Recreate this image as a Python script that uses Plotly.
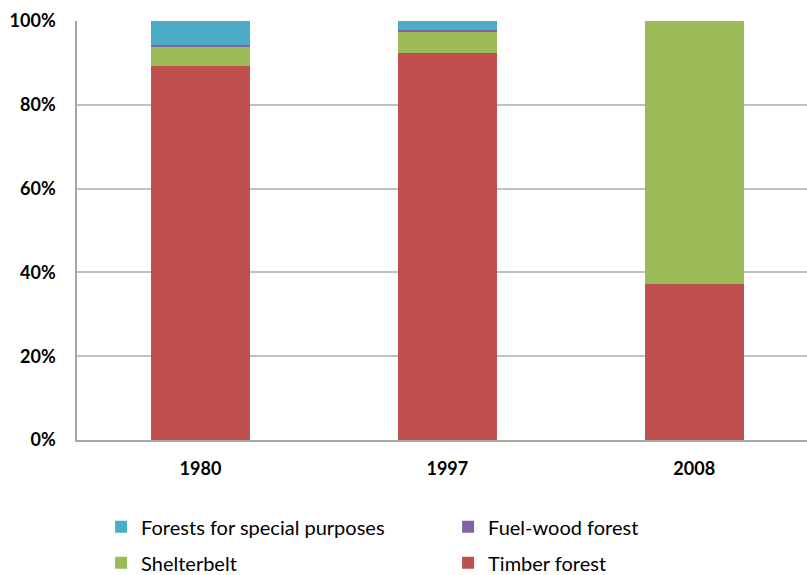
import plotly.graph_objects as go

# Forest composition by purpose, share of total (%)
years = ["1980", "1997", "2008"]
timber = [89.3, 92.3, 37.3]
shelterbelt = [4.6, 5.3, 62.7]
fuel_wood = [0.3, 0.3, 0.0]
special = [5.8, 2.1, 0.0]

y_ticks = [0, 20, 40, 60, 80, 100]
y_tick_labels = ["0%", "20%", "40%", "60%", "80%", "100%"]

FONT = "Lato"

series = [
    ("Timber forest", timber, "#C0504D", "legend2"),
    ("Shelterbelt", shelterbelt, "#9BBB59", "legend2"),
    ("Fuel-wood forest", fuel_wood, "#8064A2", "legend"),
    ("Forests for special purposes", special, "#4BACC6", "legend"),
]

fig = go.Figure()
for name, vals, color, leg in series:
    fig.add_trace(go.Bar(
        x=years, y=vals, name=name, marker=dict(color=color, line=dict(width=0)),
        width=0.4, legend=leg,
    ))

legend_common = dict(
    orientation="h", xanchor="left", yanchor="middle",
    font=dict(family=FONT, size=20, color="#000000"),
    entrywidth=302, entrywidthmode="pixels",
    traceorder="reversed", bgcolor="rgba(0,0,0,0)",
)

fig.update_layout(
    barmode="stack",
    width=807, height=575,
    margin=dict(l=77, r=0, t=21, b=135, autoexpand=False),
    plot_bgcolor="#FFFFFF", paper_bgcolor="#FFFFFF",
    showlegend=True,
    legend=dict(x=0.033, y=-0.207, **legend_common),
    legend2=dict(x=0.033, y=-0.293, **legend_common),
    xaxis=dict(
        type="category", range=[-0.5, 2.457],
        showline=True, linecolor="#A6A6A6", linewidth=1.5,
        showgrid=False, ticks="", ticklabelstandoff=12,
        tickfont=dict(family=FONT, size=18, color="#000000", weight="bold"),
    ),
    yaxis=dict(
        range=[0, 100], tickvals=y_ticks, ticktext=y_tick_labels,
        showline=True, linecolor="#A6A6A6", linewidth=1.5,
        showgrid=True, gridcolor="#C0C0C0", gridwidth=1.5,
        zeroline=False, ticks="", ticklabelstandoff=16,
        tickfont=dict(family=FONT, size=18, color="#000000", weight="bold"),
    ),
)

fig.write_html("out.html")
